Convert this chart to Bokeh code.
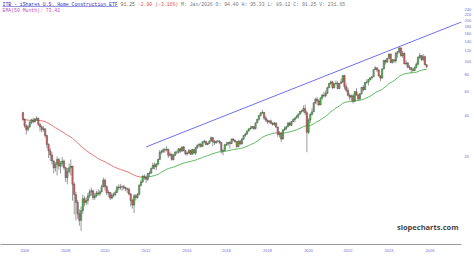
import math
import pandas as pd
from bokeh.plotting import figure
from bokeh.models import ColumnDataSource, Label, BoxAnnotation, FixedTicker, Range1d
from bokeh.embed import file_html
from bokeh.resources import INLINE

# ---------------- data (monthly, May 2006 .. Jan 2026) ----------------
first_open = 42.0
close_by_year = [
    [37.5, 33.5, 31.5, 33.0, 35.5, 37.0, 36.0, 37.5],
    [38.0, 34.5, 33.0, 31.5, 32.0, 28.5, 24.5, 22.0, 20.5, 18.5, 16.5, 17.5],
    [19.0, 17.0, 17.8, 18.5, 16.5, 14.0, 15.5, 16.5, 17.0, 12.5, 10.5, 9.2],
    [7.6, 6.8, 8.0, 9.8, 9.2, 9.5, 10.3, 11.0, 11.2, 10.0, 10.3, 10.8],
    [10.6, 11.0, 12.0, 13.4, 12.0, 10.8, 10.9, 9.9, 10.4, 10.5, 10.9, 11.9],
    [11.8, 12.0, 12.0, 11.8, 11.6, 11.5, 10.6, 9.5, 8.8, 10.3, 10.0, 10.5],
    [12.3, 13.0, 14.3, 14.0, 13.6, 15.0, 15.1, 16.3, 17.3, 16.8, 17.6, 19.0],
    [21.5, 21.7, 22.4, 22.3, 22.6, 20.4, 20.8, 19.0, 20.4, 21.5, 21.5, 22.8],
    [21.9, 23.5, 22.1, 20.9, 21.2, 22.1, 20.8, 22.5, 21.2, 23.3, 24.2, 24.5],
    [23.7, 25.6, 25.9, 24.5, 24.9, 25.9, 27.5, 25.7, 25.2, 25.9, 25.9, 25.3],
    [22.0, 22.1, 24.4, 24.7, 25.4, 24.9, 26.9, 26.3, 25.7, 23.6, 25.9, 24.7],
    [26.8, 28.5, 29.2, 30.8, 31.9, 32.3, 33.2, 32.1, 35.3, 37.5, 40.0, 41.8],
    [42.2, 38.3, 36.9, 35.9, 36.5, 35.0, 34.4, 35.2, 32.8, 29.0, 29.6, 26.9],
    [31.3, 32.2, 33.0, 35.2, 33.9, 36.1, 37.3, 38.4, 39.5, 40.9, 42.8, 43.3],
    [44.9, 41.9, 30.1, 37.0, 40.7, 42.5, 49.6, 52.6, 51.1, 47.7, 53.9, 56.5],
    [55.7, 58.2, 63.8, 68.7, 70.6, 63.9, 68.5, 69.2, 63.0, 68.8, 70.7, 78.5],
    [65.0, 61.2, 56.3, 54.5, 55.8, 50.9, 59.8, 56.4, 52.9, 57.6, 64.3, 61.8],
    [70.0, 70.2, 73.2, 75.5, 76.9, 86.9, 89.6, 86.3, 77.8, 75.1, 87.9, 101.8],
    [98.6, 105.1, 113.1, 97.8, 102.5, 100.5, 114.2, 117.6, 125.1, 109.5, 114.1, 95.9],
    [97.0, 90.2, 89.5, 87.0, 85.5, 90.0, 95.0, 107.0, 110.0, 103.0, 108.0, 94.15],
    [91.25],
]
high_by_year = [
    [42.5, 38.0, 34.5, 34.0, 36.5, 37.8, 38.5, 38.5],
    [39.5, 38.8, 35.0, 33.8, 33.5, 32.0, 29.0, 25.0, 23.0, 21.5, 18.8, 18.2],
    [20.0, 19.5, 18.5, 19.8, 19.0, 16.8, 16.5, 17.8, 19.0, 17.0, 13.0, 11.0],
    [9.6, 8.2, 8.6, 10.5, 10.2, 10.0, 10.8, 11.5, 11.8, 11.4, 10.8, 11.2],
    [11.5, 11.3, 12.4, 14.0, 13.8, 12.3, 11.4, 11.0, 10.8, 10.9, 11.3, 12.2],
    [12.5, 12.6, 12.3, 12.4, 12.0, 11.8, 11.8, 10.8, 9.8, 10.6, 10.6, 10.8],
    [12.5, 13.5, 14.6, 14.8, 14.5, 15.2, 15.6, 16.6, 18.0, 18.1, 17.9, 19.3],
    [22.3, 22.4, 23.0, 23.2, 23.8, 22.7, 21.7, 21.0, 20.9, 22.0, 22.2, 23.0],
    [23.1, 23.7, 23.9, 22.3, 21.6, 22.7, 22.4, 22.7, 22.7, 23.5, 24.5, 25.2],
    [25.2, 25.8, 26.5, 26.0, 25.3, 26.3, 28.0, 27.8, 26.4, 26.3, 26.6, 26.4],
    [25.4, 22.6, 24.6, 25.6, 25.6, 25.9, 27.0, 27.2, 26.6, 25.8, 26.6, 26.4],
    [27.3, 28.7, 29.8, 31.0, 32.0, 33.6, 33.5, 33.3, 35.4, 37.7, 40.2, 42.0],
    [44.0, 42.4, 39.6, 37.5, 37.0, 37.3, 35.8, 35.8, 35.6, 33.1, 30.7, 30.2],
    [31.8, 33.3, 33.6, 35.8, 36.0, 36.4, 38.0, 38.6, 40.3, 41.3, 43.3, 44.2],
    [47.4, 48.1, 43.2, 38.2, 41.6, 45.1, 49.9, 53.9, 54.8, 52.6, 54.4, 57.6],
    [59.8, 60.9, 65.1, 69.1, 72.3, 71.7, 68.9, 72.1, 71.1, 69.1, 74.4, 79.0],
    [79.5, 68.4, 64.1, 58.2, 57.0, 57.4, 60.5, 63.5, 57.9, 58.2, 64.8, 66.6],
    [70.5, 73.8, 73.8, 76.3, 78.3, 87.1, 91.9, 89.8, 87.1, 79.2, 88.2, 102.0],
    [102.5, 105.6, 113.8, 113.1, 104.0, 103.8, 116.6, 118.1, 127.0, 126.5, 118.9, 116.3],
    [101.5, 99.0, 93.5, 90.5, 89.5, 91.5, 98.0, 108.5, 115.0, 111.0, 113.0, 110.0],
    [95.33],
]
low_by_year = [
    [36.5, 32.5, 29.0, 30.5, 32.5, 34.5, 35.0, 35.5],
    [36.5, 33.5, 30.5, 30.0, 30.5, 27.5, 23.0, 19.5, 18.5, 17.5, 15.0, 15.5],
    [14.5, 16.0, 15.0, 16.8, 16.0, 13.0, 12.5, 15.0, 14.5, 9.5, 7.5, 6.8],
    [7.0, 6.2, 5.7, 7.6, 8.6, 8.8, 8.9, 9.9, 10.3, 9.6, 9.6, 10.0],
    [10.3, 10.3, 10.9, 11.9, 11.2, 10.4, 10.1, 9.6, 9.7, 10.0, 10.2, 10.8],
    [11.3, 11.4, 11.2, 11.4, 11.1, 10.8, 10.4, 8.6, 8.3, 7.7, 9.5, 9.8],
    [10.5, 12.0, 12.8, 13.5, 12.8, 13.2, 14.2, 14.9, 16.2, 16.0, 15.9, 17.2],
    [19.0, 20.8, 21.2, 21.3, 21.8, 19.5, 19.9, 18.6, 18.7, 20.1, 20.8, 21.0],
    [21.2, 21.6, 21.8, 20.4, 20.3, 20.9, 20.6, 20.6, 20.7, 20.5, 22.7, 23.3],
    [23.2, 23.6, 24.9, 24.2, 24.2, 24.7, 25.8, 23.8, 24.3, 24.8, 25.2, 24.6],
    [21.0, 20.4, 21.9, 23.8, 24.0, 22.8, 24.6, 25.8, 25.2, 23.2, 23.5, 24.2],
    [24.5, 26.5, 27.8, 28.8, 30.5, 31.4, 31.9, 31.2, 31.6, 35.2, 36.6, 39.3],
    [41.0, 37.1, 35.8, 34.6, 35.0, 34.4, 33.6, 33.6, 32.6, 27.9, 27.6, 25.5],
    [26.6, 30.9, 31.2, 32.9, 33.5, 33.6, 35.6, 35.6, 37.9, 38.0, 40.7, 41.8],
    [42.1, 40.3, 21.5, 29.2, 35.0, 39.9, 42.3, 48.6, 47.6, 47.3, 48.0, 52.2],
    [54.4, 54.2, 57.3, 63.5, 66.9, 62.4, 63.2, 67.4, 62.3, 62.4, 68.2, 68.9],
    [62.0, 59.2, 55.2, 51.8, 50.8, 48.9, 50.4, 56.1, 51.2, 51.7, 57.2, 60.2],
    [61.9, 68.4, 66.3, 72.1, 73.5, 76.5, 86.6, 83.2, 77.5, 71.4, 75.1, 87.0],
    [94.4, 97.3, 103.8, 96.5, 96.3, 96.8, 97.5, 106.1, 114.5, 108.1, 106.1, 94.8],
    [93.0, 89.0, 86.0, 82.0, 83.0, 84.5, 88.5, 93.5, 104.0, 100.5, 99.5, 93.5],
    [89.12],
]

tick_bars = [1, 25, 48, 72, 96, 119, 143, 167, 190, 214, 238]
tick_labels = ["2006", "2008", "2010", "2012", "2014", "2016",
               "2018", "2020", "2022", "2024", "2026"]
price_ticks = [20, 40, 60, 80, 100, 120, 140, 160, 180, 200, 220, 240]

trend_bars = [72, 220]
trend_prices = [23.5, 128.0]

ema_span = 50

title_main = "ITB - iShares U.S. Home Construction ETF"
title_last = "91.25"
title_change = "-2.90 (-3.16%)"
title_rest = "M: Jan/2026 O:  94.40 H:  95.33 L:  89.12 C:  91.25 V: 231.65"
title_ema = "EMA(50 Month): 73.42"
watermark = "slopecharts.com"

# ---------------- assemble ----------------
close = [v for yr in close_by_year for v in yr]
high = [v for yr in high_by_year for v in yr]
low = [v for yr in low_by_year for v in yr]
open_ = [first_open] + close[:-1]
n = len(close)
idx = list(range(n))

up = [c >= o for o, c in zip(open_, close)]
src_up = ColumnDataSource(dict(
    x=[i for i in idx if up[i]],
    top=[close[i] for i in idx if up[i]],
    bottom=[open_[i] for i in idx if up[i]]))
src_dn = ColumnDataSource(dict(
    x=[i for i in idx if not up[i]],
    top=[open_[i] for i in idx if not up[i]],
    bottom=[close[i] for i in idx if not up[i]]))

ema = pd.Series(close).ewm(span=ema_span, adjust=False).mean().tolist()
ema_src = ColumnDataSource(dict(
    x0=idx[:-1], x1=idx[1:], y0=ema[:-1], y1=ema[1:],
    c=["#5cb85c" if ema[i + 1] >= ema[i] else "#e57373" for i in range(n - 1)]))

X0, X1 = -13.1, 256.4
Y0, Y1 = 4.52, 279.0

p = figure(width=474, height=256, y_axis_type="log", y_axis_location="right",
           x_range=Range1d(X0, X1), y_range=Range1d(Y0, Y1),
           output_backend="svg", toolbar_location=None,
           min_border_left=0, min_border_right=12, min_border_top=0,
           min_border_bottom=12)
p.background_fill_color = "white"
p.border_fill_color = "white"
p.outline_line_color = None
p.grid.visible = False

# trend line (log-linear through two anchors, extended to right edge)
slope = (math.log(trend_prices[1]) - math.log(trend_prices[0])) / (trend_bars[1] - trend_bars[0])
t_end = math.exp(math.log(trend_prices[1]) + slope * (X1 - trend_bars[1]))
p.line([trend_bars[0], X1], [trend_prices[0], t_end], line_color="#7070ee", line_width=1)

# EMA
p.segment(x0="x0", y0="y0", x1="x1", y1="y1", line_color="c", line_width=1, source=ema_src)

# candles
p.segment(x0=idx, y0=low, x1=idx, y1=high, line_color="#555555", line_width=0.6)
p.vbar(x="x", top="top", bottom="bottom", width=0.8, fill_color="#4ccc4c",
       line_color="#3a3a3a", line_width=0.4, source=src_up)
p.vbar(x="x", top="top", bottom="bottom", width=0.8, fill_color="#e06666",
       line_color="#3a3a3a", line_width=0.4, source=src_dn)

# axes
ax = p.xaxis[0]
ax.ticker = FixedTicker(ticks=tick_bars)
ax.major_label_overrides = {b: l for b, l in zip(tick_bars, tick_labels)}
ax.axis_line_color = "#999999"
ax.axis_line_width = 1
ax.major_tick_line_color = None
ax.minor_tick_line_color = None
ax.major_tick_out = 0
ax.major_tick_in = 0
ax.minor_tick_out = 0
ax.minor_tick_in = 0
ax.major_label_text_font_size = "4px"
ax.major_label_text_color = "#6a6ad8"
ax.major_label_standoff = 4

ay = p.yaxis[0]
ay.ticker = FixedTicker(ticks=price_ticks)
ay.major_label_overrides = {t: str(t) for t in price_ticks}
ay.axis_line_color = None
ay.major_tick_line_color = None
ay.minor_tick_line_color = None
ay.major_tick_out = 0
ay.major_tick_in = 0
ay.minor_tick_out = 0
ay.minor_tick_in = 0
ay.major_label_text_font_size = "4px"
ay.major_label_text_color = "#6a6ad8"
ay.major_label_standoff = 3

# title texts (screen units relative to frame, y up from frame bottom)
FS = 4.8
CW = 0.6 * FS
FRAME_H = 244
ty = FRAME_H - 3.5
x = 2.0
parts = [(title_main, "#3333bb"), (title_last, "#666666"),
         (title_change, "#e05050"), (title_rest, "#777777")]
for txt, col in parts:
    p.add_layout(Label(x=x, y=ty, x_units="screen", y_units="screen", text=txt,
                       text_font="Liberation Mono", text_font_size=f"{FS}px",
                       text_color=col, text_baseline="middle", text_align="left"))
    if txt == title_main:
        p.add_layout(BoxAnnotation(left=x, right=x + len(txt) * CW,
                                   bottom=FRAME_H - 6.3, top=FRAME_H - 5.8,
                                   left_units="screen", right_units="screen",
                                   bottom_units="screen", top_units="screen",
                                   fill_color="#3333bb", fill_alpha=1, line_color=None))
    x += (len(txt) + 1) * CW

p.add_layout(Label(x=2.0, y=FRAME_H - 9.5, x_units="screen", y_units="screen",
                   text=title_ema, text_font="Liberation Mono",
                   text_font_size=f"{FS}px", text_color="#c050c0",
                   text_baseline="middle", text_align="left"))

p.add_layout(Label(x=458, y=FRAME_H - 226, x_units="screen", y_units="screen",
                   text=watermark, text_font="Open Sans", text_font_style="bold",
                   text_font_size="7.5px", text_color="#444444",
                   text_baseline="middle", text_align="right"))

open("out.html", "w").write(file_html(p, INLINE))
